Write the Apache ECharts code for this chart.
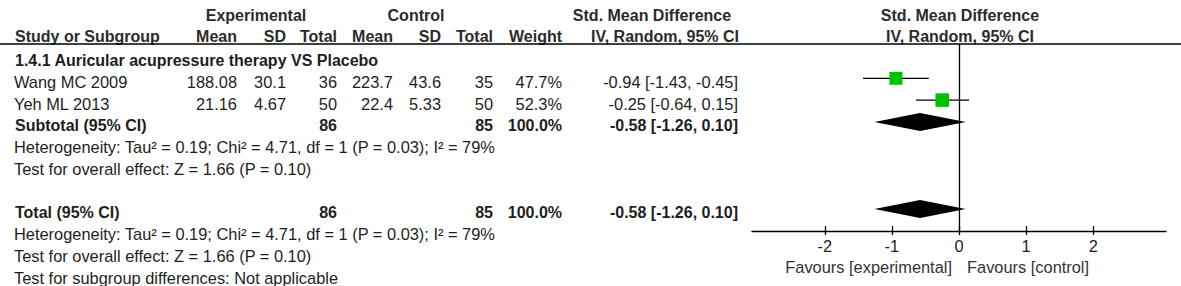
<!DOCTYPE html>
<html>
<head>
<meta charset="utf-8">
<title>Forest plot</title>
<script src="https://cdn.jsdelivr.net/npm/echarts@6/dist/echarts.min.js"></script>
<style>
html, body { margin: 0; padding: 0; background: #fff; }
#forest { width: 1181px; height: 286px; }
</style>
</head>
<body>
<div id="forest"></div>
<script>
//////////// data ////////////
var subgroupTitle = '1.4.1 Auricular acupressure therapy VS Placebo';
var studyNames = ['Wang MC 2009', 'Yeh ML 2013'];
var expMean = [188.08, 21.16];
var expSD = [30.1, 4.67];
var expTotal = [36, 50];
var ctlMean = [223.7, 22.4];
var ctlSD = [43.6, 5.33];
var ctlTotal = [35, 50];
var weights = [47.7, 52.3];
var smd = [-0.94, -0.25];
var ciLow = [-1.43, -0.64];
var ciHigh = [-0.45, 0.15];

// subtotal / total
var pooledNames = ['Subtotal (95% CI)', 'Total (95% CI)'];
var pooledExpTotal = [86, 86];
var pooledCtlTotal = [85, 85];
var pooledWeight = [100.0, 100.0];
var pooledSmd = [-0.58, -0.58];
var pooledLow = [-1.26, -1.26];
var pooledHigh = [0.10, 0.10];

// heterogeneity: tau2, chi2, df, p, I2
var hetStats = [0.19, 4.71, 1, 0.03, 79];
// overall effect: Z, p
var overallStats = [1.66, 0.10];

var xTicks = [-2, -1, 0, 1, 2];

// rows of the table (row index)
var studyRows = [1, 2];
var pooledRows = [3, 7];

//////////// layout ////////////
var FONT = '"Liberation Sans", Arial, sans-serif';
var TXT = '#1e1e1e';
var HEAD = '#2b2b2b';
// right edge of each numeric column
var col = {
	name: 14,
	expMean: 237, expSD: 286, expTotal: 337,
	ctlMean: 393, ctlSD: 441, ctlTotal: 493,
	weight: 562, ci: 738
};

function rowY(r) {
	return 60 + 21.8 * r;
}

var texts = [];
function txt(x, y, s, align, bold, color) {
	texts.push({
		type: 'text',
		silent: true,
		style: {
			text: s,
			x: x, y: y,
			align: align, textAlign: align,
			verticalAlign: 'middle', textVerticalAlign: 'middle',
			fill: color || TXT,
			fontSize: bold ? 16 : 16.4,
			fontWeight: bold ? 'bold' : 'normal',
			fontFamily: FONT
		}
	});
}

function f2(v) { return v.toFixed(2); }
function ciText(e, lo, hi) {
	return f2(e) + ' [' + f2(lo) + ', ' + f2(hi) + ']';
}

// header
txt(256, 15, 'Experimental', 'center', true, HEAD);
txt(416, 15, 'Control', 'center', true, HEAD);
txt(652, 15, 'Std. Mean Difference', 'center', true, HEAD);
txt(960, 15, 'Std. Mean Difference', 'center', true, HEAD);
txt(col.name + 1, 36, 'Study or Subgroup', 'left', true, HEAD);
txt(col.expMean, 36, 'Mean', 'right', true, HEAD);
txt(col.expSD, 36, 'SD', 'right', true, HEAD);
txt(col.expTotal, 36, 'Total', 'right', true, HEAD);
txt(col.ctlMean, 36, 'Mean', 'right', true, HEAD);
txt(col.ctlSD, 36, 'SD', 'right', true, HEAD);
txt(col.ctlTotal, 36, 'Total', 'right', true, HEAD);
txt(col.weight, 36, 'Weight', 'right', true, HEAD);
txt(665, 36, 'IV, Random, 95% CI', 'center', true, HEAD);
txt(960, 36, 'IV, Random, 95% CI', 'center', true, HEAD);

// subgroup title
txt(col.name + 1, rowY(0), subgroupTitle, 'left', true);

// studies
studyNames.forEach(function(name, i) {
	var y = rowY(studyRows[i]);
	txt(col.name, y, name, 'left');
	txt(col.expMean, y, String(expMean[i]), 'right');
	txt(col.expSD, y, String(expSD[i]), 'right');
	txt(col.expTotal, y, String(expTotal[i]), 'right');
	txt(col.ctlMean, y, String(ctlMean[i]), 'right');
	txt(col.ctlSD, y, String(ctlSD[i]), 'right');
	txt(col.ctlTotal, y, String(ctlTotal[i]), 'right');
	txt(col.weight, y, weights[i].toFixed(1) + '%', 'right');
	txt(col.ci, y, ciText(smd[i], ciLow[i], ciHigh[i]), 'right');
});

// subtotal + total with heterogeneity lines
var hetLine = 'Heterogeneity: Tau\u00b2 = ' + f2(hetStats[0]) + '; Chi\u00b2 = ' + f2(hetStats[1])
	+ ', df = ' + hetStats[2] + ' (P = ' + f2(hetStats[3]) + '); I\u00b2 = ' + hetStats[4] + '%';
var overallLine = 'Test for overall effect: Z = ' + f2(overallStats[0]) + ' (P = ' + f2(overallStats[1]) + ')';

pooledNames.forEach(function(name, i) {
	var r = pooledRows[i];
	var y = rowY(r);
	txt(col.name + 1, y, name, 'left', true);
	txt(col.expTotal, y, String(pooledExpTotal[i]), 'right', true);
	txt(col.ctlTotal, y, String(pooledCtlTotal[i]), 'right', true);
	txt(col.weight, y, pooledWeight[i].toFixed(1) + '%', 'right', true);
	txt(col.ci, y, ciText(pooledSmd[i], pooledLow[i], pooledHigh[i]), 'right', true);
	txt(col.name, rowY(r + 1), hetLine, 'left');
	txt(col.name, rowY(r + 2), overallLine, 'left');
});
txt(col.name, rowY(10), 'Test for subgroup differences: Not applicable', 'left');

// axis captions
txt(952, 267, 'Favours [experimental]', 'right', false, '#333');
txt(967, 267, 'Favours [control]', 'left', false, '#333');

// header rule
texts.push({
	type: 'line',
	silent: true,
	shape: { x1: 0, y1: 44, x2: 1181, y2: 44 },
	style: { stroke: '#000', lineWidth: 1.3 }
});

//////////// chart ////////////
var studyData = smd.map(function(v, i) {
	return [v, ciLow[i], ciHigh[i], studyRows[i], weights[i]];
});
var pooledData = pooledSmd.map(function(v, i) {
	return [v, pooledLow[i], pooledHigh[i], pooledRows[i]];
});

var chart = echarts.init(document.getElementById('forest'), null, { renderer: 'svg' });

var axisBase = {
	type: 'value',
	min: -3.085,
	max: 3.085,
	position: 'bottom',
	offset: 0,
	splitLine: { show: false }
};

var option = {
	animation: false,
	backgroundColor: '#fff',
	grid: { left: 752, width: 414, top: 44, height: 187 },
	xAxis: [
		Object.assign({}, axisBase, {
			axisLine: { show: true, onZero: false, lineStyle: { color: '#000', width: 1.3 } },
			axisTick: { show: true, inside: true, length: 5, customValues: xTicks, lineStyle: { color: '#000', width: 1.3 } },
			axisLabel: { show: true, customValues: xTicks, margin: 7, color: TXT, fontSize: 16.4, fontFamily: FONT }
		}),
		Object.assign({}, axisBase, {
			axisLine: { show: false, onZero: false },
			axisTick: { show: true, inside: false, length: 4, customValues: xTicks, lineStyle: { color: '#000', width: 1.3 } },
			axisLabel: { show: false }
		})
	],
	yAxis: {
		type: 'value',
		min: -0.573,
		max: 8.005,
		inverse: true,
		show: false
	},
	graphic: texts,
	series: [
		{
			name: 'studies',
			type: 'custom',
			xAxisIndex: 0,
			encode: { x: [0, 1, 2], y: 3 },
			data: studyData,
			renderItem: function(params, api) {
				var lo = api.coord([api.value(1), api.value(3)]);
				var hi = api.coord([api.value(2), api.value(3)]);
				var c = api.coord([api.value(0), api.value(3)]);
				var s = 13.6 * Math.sqrt(api.value(4) / 52.3);
				return {
					type: 'group',
					children: [
						{ type: 'line', shape: { x1: lo[0], y1: lo[1], x2: hi[0], y2: hi[1] }, style: { stroke: '#000', lineWidth: 1.3 } },
						{ type: 'rect', shape: { x: c[0] - s / 2, y: c[1] - s / 2, width: s, height: s }, style: { fill: '#00c000' } }
					]
				};
			},
			markLine: {
				silent: true,
				symbol: 'none',
				label: { show: false },
				lineStyle: { color: '#000', width: 1.3, type: 'solid' },
				data: [{ xAxis: 0 }]
			}
		},
		{
			name: 'pooled',
			type: 'custom',
			xAxisIndex: 0,
			encode: { x: [0, 1, 2], y: 3 },
			data: pooledData,
			renderItem: function(params, api) {
				var lo = api.coord([api.value(1), api.value(3)]);
				var hi = api.coord([api.value(2), api.value(3)]);
				var c = api.coord([api.value(0), api.value(3)]);
				var h = 9;
				return {
					type: 'polygon',
					shape: { points: [[lo[0], c[1]], [c[0], c[1] - h], [hi[0], c[1]], [c[0], c[1] + h]] },
					style: { fill: '#000' }
				};
			}
		}
	]
};

chart.setOption(option);
</script>
</body>
</html>
